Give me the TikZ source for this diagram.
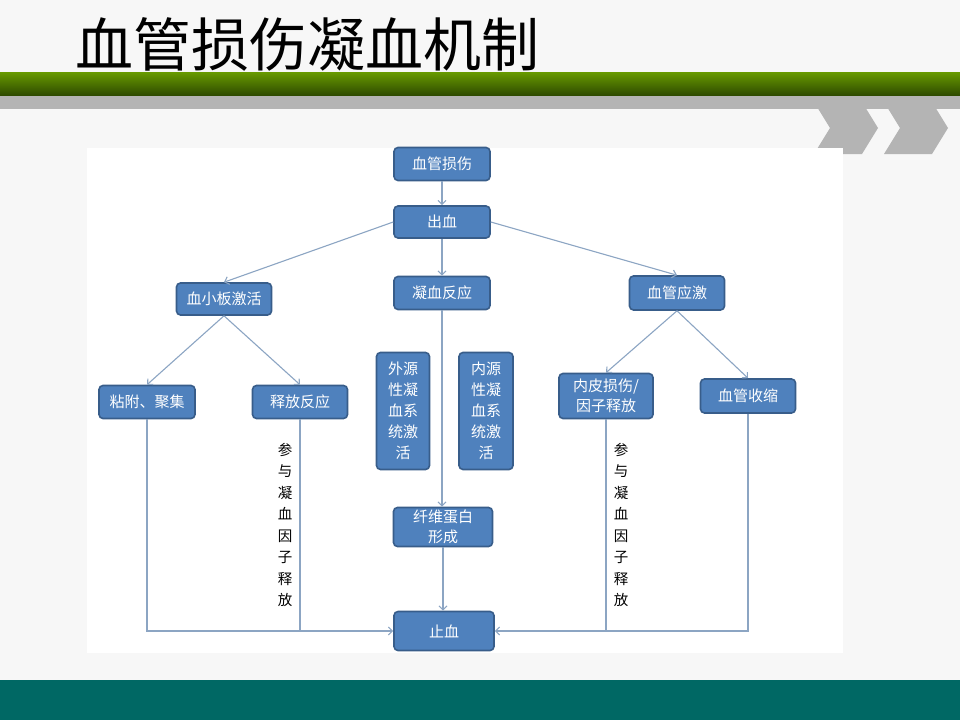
\documentclass[tikz,border=0pt]{standalone}
\usepackage{fontspec}
\newfontfamily\cjk{Noto Sans CJK SC}
\usetikzlibrary{arrows.meta}
\definecolor{bgc}{RGB}{247,247,247}
\definecolor{grn1}{RGB}{104,154,0}
\definecolor{grn2}{RGB}{44,72,0}
\definecolor{gbar}{RGB}{180,180,180}
\definecolor{tealc}{RGB}{0,104,100}
\definecolor{boxf}{RGB}{79,129,189}
\definecolor{boxd}{RGB}{56,93,138}
\definecolor{lnc}{RGB}{140,165,195}
\begin{document}
\begin{tikzpicture}[x=1pt,y=-1pt,
  box/.style={draw=boxd, line width=1.6pt, fill=boxf, rounded corners=4pt, text=white,
    font=\cjk\fontsize{15}{20}\selectfont, align=center, inner sep=0pt},
  conn/.style={draw=lnc, line width=1.1pt},
  arr/.style={conn, -{Straight Barb[length=4pt,width=8pt]}},
  vlab/.style={font=\cjk\fontsize{14.5}{21.5}\selectfont, text=black, align=center, inner sep=0pt}]
\useasboundingbox (0,0) rectangle (960,720);
\fill[bgc] (0,0) rectangle (960,720);
% chevrons
\fill[gbar] (814,102) -- (862,102) -- (878,128) -- (862,154) -- (814,154) -- (830,128) -- cycle;
\fill[gbar] (884,102) -- (932,102) -- (948,128) -- (932,154) -- (884,154) -- (900,128) -- cycle;
% bars
\shade[top color=grn1, bottom color=grn2] (0,72) rectangle (960,96);
\fill[gbar] (0,96) rectangle (960,109);
\fill[tealc] (0,680) rectangle (960,720);
% panel
\fill[white] (87,148) rectangle (843,653);
% title
\node[anchor=west, font=\cjk\fontsize{58}{60}\selectfont, inner sep=0pt, text=black] (title) at (75,44) {血管损伤凝血机制};
% nodes
\node[box, minimum width=96, minimum height=33] (a) at (442,164) {血管损伤};
\node[box, minimum width=96, minimum height=32] (b) at (442,222) {出血};
\node[box, minimum width=96, minimum height=33] (c) at (442,293) {凝血反应};
\node[box, minimum width=95, minimum height=34] (e) at (677,293) {血管应激};
\node[box, minimum width=95, minimum height=32] (d) at (224,299) {血小板激活};
\node[box, minimum width=96, minimum height=33] (f) at (147,402) {粘附、聚集};
\node[box, minimum width=95, minimum height=33] (g) at (300,402) {释放反应};
\node[box, minimum width=94, minimum height=45] (h) at (606,396) {内皮损伤/\\因子释放};
\node[box, minimum width=95, minimum height=34] (i) at (748,396) {血管收缩};
\node[box, minimum width=53, minimum height=117, font=\cjk\fontsize{15}{21}\selectfont] (j) at (403,411) {外源\\性凝\\血系\\统激\\活};
\node[box, minimum width=54, minimum height=117, font=\cjk\fontsize{15}{21}\selectfont] (k) at (486,411) {内源\\性凝\\血系\\统激\\活};
\node[box, minimum width=99, minimum height=39] (l) at (443,527) {纤维蛋白\\形成};
\node[box, minimum width=100, minimum height=39] (m) at (444,631) {止血};
% labels
\node[vlab] (lab1) at (285,525) {参\\与\\凝\\血\\因\\子\\释\\放};
\node[vlab] (lab2) at (621,525) {参\\与\\凝\\血\\因\\子\\释\\放};
% connectors
\draw[arr] (a) -- (b);
\draw[arr] (b) -- (c);
\draw[arr] (b.west) -- (d.north);
\draw[arr] (b.east) -- (e.north);
\draw[arr] (d.south) -- (f.north);
\draw[arr] (d.south) -- (g.north);
\draw[arr] (e.south) -- (h.north);
\draw[arr] (e.south) -- (i.north);
\draw[arr] (c.south) -- (c.south |- l.north);
\draw[arr] (l.south) -- (l.south |- m.north);
\draw[arr] (f.south) |- (m.west);
\draw[conn] (g.south) -- (g.south |- m.west);
\draw[arr] (i.south) |- (m.east);
\draw[conn] (h.south) -- (h.south |- m.east);
\end{tikzpicture}
\end{document}
